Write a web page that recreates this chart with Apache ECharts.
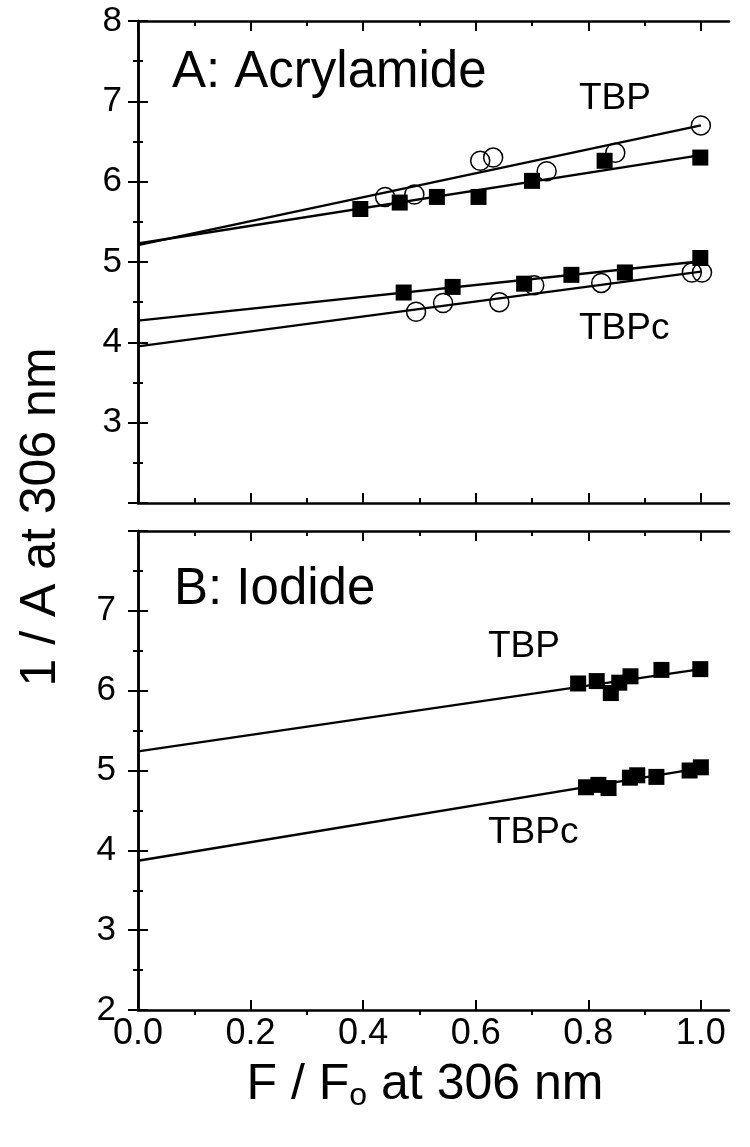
<!DOCTYPE html>
<html>
<head>
<meta charset="utf-8">
<script src="https://cdn.jsdelivr.net/npm/echarts@6/dist/echarts.min.js"></script>
<style>
  html, body { margin: 0; padding: 0; background: #fff; }
  #chart { width: 750px; height: 1147px; }
</style>
</head>
<body>
<div id="chart"></div>
<script>
// x ticks (F/Fo) and y range
const xMajor = [0, 0.2, 0.4, 0.6, 0.8, 1.0]
const xMinor = [0.1, 0.3, 0.5, 0.7, 0.9]

// Panel A: acrylamide quenching
const acrylTbpSquares = [[0.395, 5.66], [0.465, 5.74], [0.531, 5.81], [0.605, 5.81], [0.700, 6.01], [0.829, 6.26], [0.999, 6.30]]
const acrylTbpCircles = [[0.439, 5.81], [0.491, 5.84], [0.608, 6.26], [0.631, 6.30], [0.726, 6.13], [0.848, 6.36], [1.0, 6.70]]
const acrylTbpcSquares = [[0.472, 4.62], [0.559, 4.69], [0.686, 4.73], [0.770, 4.84], [0.865, 4.87], [0.999, 5.05]]
const acrylTbpcCircles = [[0.494, 4.38], [0.542, 4.49], [0.642, 4.50], [0.704, 4.71], [0.823, 4.74], [0.984, 4.87], [1.002, 4.87]]
const acrylTbpCircleFit = [[0, 5.21], [1.0, 6.70]]
const acrylTbpSquareFit = [[0, 5.23], [1.0, 6.33]]
const acrylTbpcSquareFit = [[0, 4.27], [1.0, 5.01]]
const acrylTbpcCircleFit = [[0, 3.95], [1.0, 4.88]]

// Panel B: iodide quenching
const iodTbpSquares = [[0.782, 6.09], [0.815, 6.12], [0.840, 5.97], [0.855, 6.10], [0.875, 6.18], [0.930, 6.26], [0.999, 6.27]]
const iodTbpcSquares = [[0.796, 4.79], [0.818, 4.82], [0.836, 4.78], [0.874, 4.91], [0.887, 4.94], [0.921, 4.92], [0.980, 5.00], [1.0, 5.04]]
const iodTbpFit = [[0, 5.24], [1.0, 6.27]]
const iodTbpcFit = [[0, 3.87], [1.0, 5.03]]

const FONT = '"Liberation Sans", Arial, sans-serif'
const INK = '#000'

function xAxis(gridIndex, position, ticks, len, opts = {}) {
  return {
    type: 'value',
    gridIndex,
    position,
    min: 0,
    max: 1.05,
    axisLine: { show: opts.line !== false, lineStyle: { color: INK, width: 2.5 } },
    axisTick: { show: true, customValues: ticks, inside: !opts.outside, length: len, lineStyle: { color: INK, width: 2 } },
    axisLabel: opts.labels
      ? { show: true, customValues: ticks, formatter: (v) => v.toFixed(1), color: INK, fontSize: 36, fontFamily: FONT, margin: 6 }
      : { show: false },
    splitLine: { show: false }
  }
}

function yAxis(gridIndex, position, hide, margin) {
  return {
    type: 'value',
    gridIndex,
    position,
    min: 2,
    max: 8,
    interval: 1,
    axisLine: { show: true, lineStyle: { color: INK, width: 2.5 } },
    axisTick: { show: true, inside: true, length: 10, lineStyle: { color: INK, width: 2 } },
    minorTick: { show: true, splitNumber: 2, length: 5, lineStyle: { color: INK, width: 2 } },
    axisLabel: position === 'left'
      ? { show: true, formatter: (v) => (v === hide ? '' : String(v)), color: INK, fontSize: 35, fontFamily: FONT, margin }
      : { show: false },
    splitLine: { show: false }
  }
}

function fitLine(data, xi, yi) {
  return {
    type: 'line', data, xAxisIndex: xi, yAxisIndex: yi, symbol: 'none', z: 1,
    lineStyle: { color: INK, width: 2.4 }
  }
}

function squares(data, xi, yi) {
  return {
    type: 'scatter', data, xAxisIndex: xi, yAxisIndex: yi, symbol: 'rect', symbolSize: 16, z: 2,
    itemStyle: { color: INK, opacity: 1 }
  }
}

function circles(data, xi, yi) {
  return {
    type: 'scatter', data, xAxisIndex: xi, yAxisIndex: yi, symbol: 'circle', symbolSize: 19, z: 3,
    itemStyle: { color: 'rgba(0,0,0,0)', borderColor: INK, borderWidth: 1.5, opacity: 1 }
  }
}

function label(text, x, y, size) {
  return {
    type: 'text', x, y,
    style: { text, fill: INK, fontSize: size, fontFamily: FONT, align: 'left', verticalAlign: 'middle' }
  }
}

const chart = echarts.init(document.getElementById('chart'))

chart.setOption({
  animation: false,
  backgroundColor: '#fff',
  grid: [
    { left: 138, right: 21, top: 21, height: 482 },
    { left: 138, right: 21, top: 531, height: 479 }
  ],
  xAxis: [
    xAxis(0, 'bottom', xMajor, 10),
    xAxis(0, 'bottom', xMinor, 5, { line: false }),
    xAxis(0, 'top', xMajor, 10),
    xAxis(0, 'top', xMinor, 5, { line: false }),
    xAxis(1, 'bottom', xMajor, 10, { labels: true }),
    xAxis(1, 'bottom', xMinor, 5, { line: false, outside: true }),
    xAxis(1, 'top', xMajor, 10),
    xAxis(1, 'top', xMinor, 5, { line: false })
  ],
  yAxis: [
    yAxis(0, 'left', 2, 16),
    yAxis(0, 'right'),
    yAxis(1, 'left', 8, 22),
    yAxis(1, 'right')
  ],
  series: [
    fitLine(acrylTbpCircleFit, 0, 0),
    fitLine(acrylTbpSquareFit, 0, 0),
    fitLine(acrylTbpcSquareFit, 0, 0),
    fitLine(acrylTbpcCircleFit, 0, 0),
    squares(acrylTbpSquares, 0, 0),
    squares(acrylTbpcSquares, 0, 0),
    circles(acrylTbpCircles, 0, 0),
    circles(acrylTbpcCircles, 0, 0),
    fitLine(iodTbpFit, 4, 2),
    fitLine(iodTbpcFit, 4, 2),
    squares(iodTbpSquares, 4, 2),
    squares(iodTbpcSquares, 4, 2)
  ],
  graphic: [
    label('A: Acrylamide', 172, 73, 51),
    label('TBP', 579, 99, 37),
    label('TBPc', 579, 329, 37),
    label('B: Iodide', 174, 590, 51),
    label('TBP', 488, 647, 37),
    label('TBPc', 488, 833, 37),
    {
      type: 'text', x: 41, y: 517, rotation: Math.PI / 2,
      style: { text: '1 / A at 306 nm', fill: INK, fontSize: 50, fontFamily: FONT, align: 'center', verticalAlign: 'middle' }
    },
    {
      type: 'text', x: 425, y: 1085,
      style: {
        text: '{a|F / F}{s|o}{a| at 306 nm}',
        fill: INK, align: 'center', verticalAlign: 'middle',
        rich: {
          a: { fontSize: 50, fontFamily: FONT, fill: INK },
          s: { fontSize: 32, fontFamily: FONT, fill: INK, padding: [22, 0, 0, 0] }
        }
      }
    }
  ]
})
</script>
</body>
</html>
